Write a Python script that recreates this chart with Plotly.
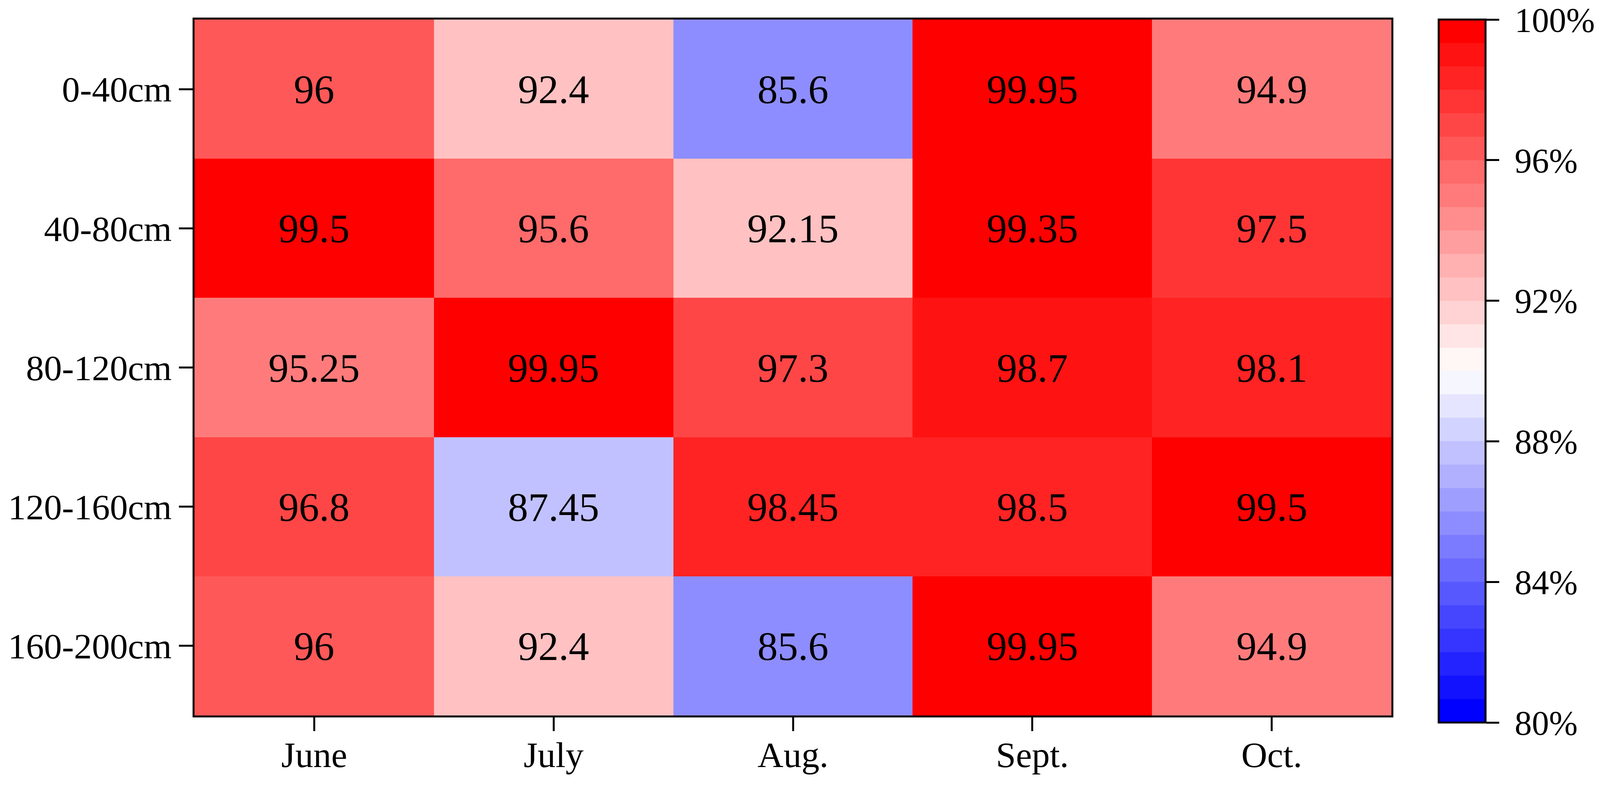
import plotly.graph_objects as go

# ==========================================
# Data
# ==========================================
MONTHS = ['June', 'July', 'Aug.', 'Sept.', 'Oct.']
DEPTHS = ['0-40cm', '40-80cm', '80-120cm', '120-160cm', '160-200cm']

ROW_0_40 = [96, 92.4, 85.6, 99.95, 94.9]
ROW_40_80 = [99.5, 95.6, 92.15, 99.35, 97.5]
ROW_80_120 = [95.25, 99.95, 97.3, 98.7, 98.1]
ROW_120_160 = [96.8, 87.45, 98.45, 98.5, 99.5]
ROW_160_200 = [96, 92.4, 85.6, 99.95, 94.9]

CBAR_TICKS = [80, 84, 88, 92, 96, 100]
CBAR_LABELS = ['80%', '84%', '88%', '92%', '96%', '100%']

Z_MIN, Z_MAX = 80, 100
N_LEVELS = 30
FONT = 'Liberation Serif, Times New Roman, serif'


def bwr(t):
    # matplotlib 'bwr': blue -> white -> red
    if t <= 0.5:
        v = round(2 * t * 255)
        return f'rgb({v},{v},255)'
    v = round(2 * (1 - t) * 255)
    return f'rgb(255,{v},{v})'


def stepped_scale(n):
    scale = []
    for k in range(n):
        c = bwr(k / (n - 1))
        scale.append([k / n, c])
        scale.append([(k + 1) / n, c])
    return scale


z = [ROW_0_40, ROW_40_80, ROW_80_120, ROW_120_160, ROW_160_200]

fig = go.Figure(go.Heatmap(
    z=z, x=MONTHS, y=DEPTHS,
    zmin=Z_MIN, zmax=Z_MAX,
    colorscale=stepped_scale(N_LEVELS),
    texttemplate='%{z}',
    textfont=dict(family=FONT, size=104, color='black'),
    colorbar=dict(
        thickness=120, thicknessmode='pixels',
        len=1799, lenmode='pixels',
        x=1.0396, xanchor='left', xpad=0,
        y=1, yanchor='top', ypad=0,
        outlinecolor='black', outlinewidth=5,
        tickmode='array', tickvals=CBAR_TICKS,
        ticktext=['\u00a0' + t for t in CBAR_LABELS],
        ticklabeloverflow='allow',
        ticks='outside', ticklen=33, tickwidth=5, tickcolor='black',
        tickfont=dict(family=FONT, size=88, color='black'),
    ),
))

fig.update_xaxes(
    showline=True, linecolor='black', linewidth=5, mirror=True,
    ticks='outside', ticklen=35, tickwidth=5, tickcolor='black',
    tickfont=dict(family=FONT, size=92, color='black'),
    ticklabelstandoff=-18,
    showgrid=False, zeroline=False,
)
fig.update_yaxes(
    autorange='reversed',
    showline=True, linecolor='black', linewidth=5, mirror=True,
    ticks='outside', ticklen=35, tickwidth=5, tickcolor='black',
    tickfont=dict(family=FONT, size=92, color='black'),
    showgrid=False, zeroline=False,
)

fig.update_layout(
    width=4080, height=1990,
    margin=dict(l=490, r=526, t=42, b=167, autoexpand=False),
    plot_bgcolor='white', paper_bgcolor='white',
    font=dict(family=FONT, color='black'),
)

fig.write_html('out.html')
